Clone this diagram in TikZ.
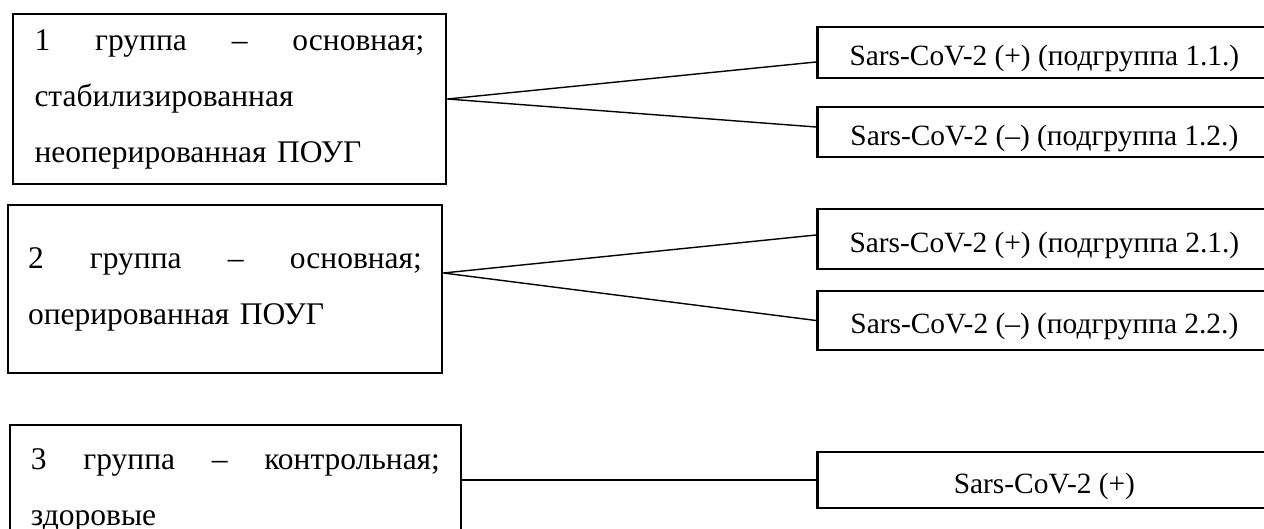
\documentclass[tikz,border=0pt]{standalone}
\usepackage{fontspec}
\setmainfont{Liberation Serif}
\usepackage{tikz}
\usetikzlibrary{positioning}
\tikzset{basic/.style={draw,fill=none,line width=1.4pt,inner sep=0pt,
                       font=\fontsize{15.75}{28}\selectfont}}
\tikzset{group/.style={basic,align=left}}

\begin{document}
\begin{tikzpicture}[x=0.5pt,y=-0.5pt,
    % styles for clarity
    sub/.style ={basic, anchor=west, minimum width=227pt,
                 font=\fontsize{14.7}{18}\selectfont,
                 text height=13.5pt, text depth=0pt},
    link/.style={line width=0.7pt}
  ]
    \useasboundingbox (0,0) rectangle (1264,529);
    \clip (0,0) rectangle (1264,529);

    \node[group, minimum width=216.5pt, minimum height=85pt, text width=195pt]
      (g1) at (229.5,99) {1\hfill группа\hfill –\hfill основная;\\
                          стабилизированная\\ неоперированная ПОУГ};
    \node[group, minimum width=217pt, minimum height=84pt, text width=197pt]
      (g2) at (225,289) {2\hfill группа\hfill –\hfill основная;\\
                         оперированная ПОУГ};
    \node[group, minimum width=225.5pt, minimum height=65pt, text width=204.5pt]
      (g3) at (235.5,490) {3\hfill группа\hfill –\hfill контрольная;\\ здоровые};

    \node[sub, minimum height=25.5pt] (s11) at (816,52.5) {Sars-CoV-2 (+) (подгруппа 1.1.)};
    \node[sub, minimum height=25pt]   (s12) at (816,132)  {Sars-CoV-2 (–) (подгруппа 1.2.)};
    \node[sub, minimum height=30pt]   (s21) at (816,239)  {Sars-CoV-2 (+) (подгруппа 2.1.)};
    \node[sub, minimum height=29.5pt] (s22) at (816,320.5) {Sars-CoV-2 (–) (подгруппа 2.2.)};
    \node[sub, minimum height=28pt]   (s3)  at (816,480)  {Sars-CoV-2 (+)};

    \draw[link] (g1.east) -- ([yshift=-4.75pt]s11.west);
    \draw[link] (g1.east) -- ([yshift=2.5pt]s12.west);
    \draw[link] ([yshift=8pt]g2.east) -- ([yshift=2pt]s21.west);
    \draw[link] ([yshift=8pt]g2.east) -- (s22.west);
    \draw[link] ([yshift=5pt]g3.east) -- (s3);
  \end{tikzpicture}
\end{document}
